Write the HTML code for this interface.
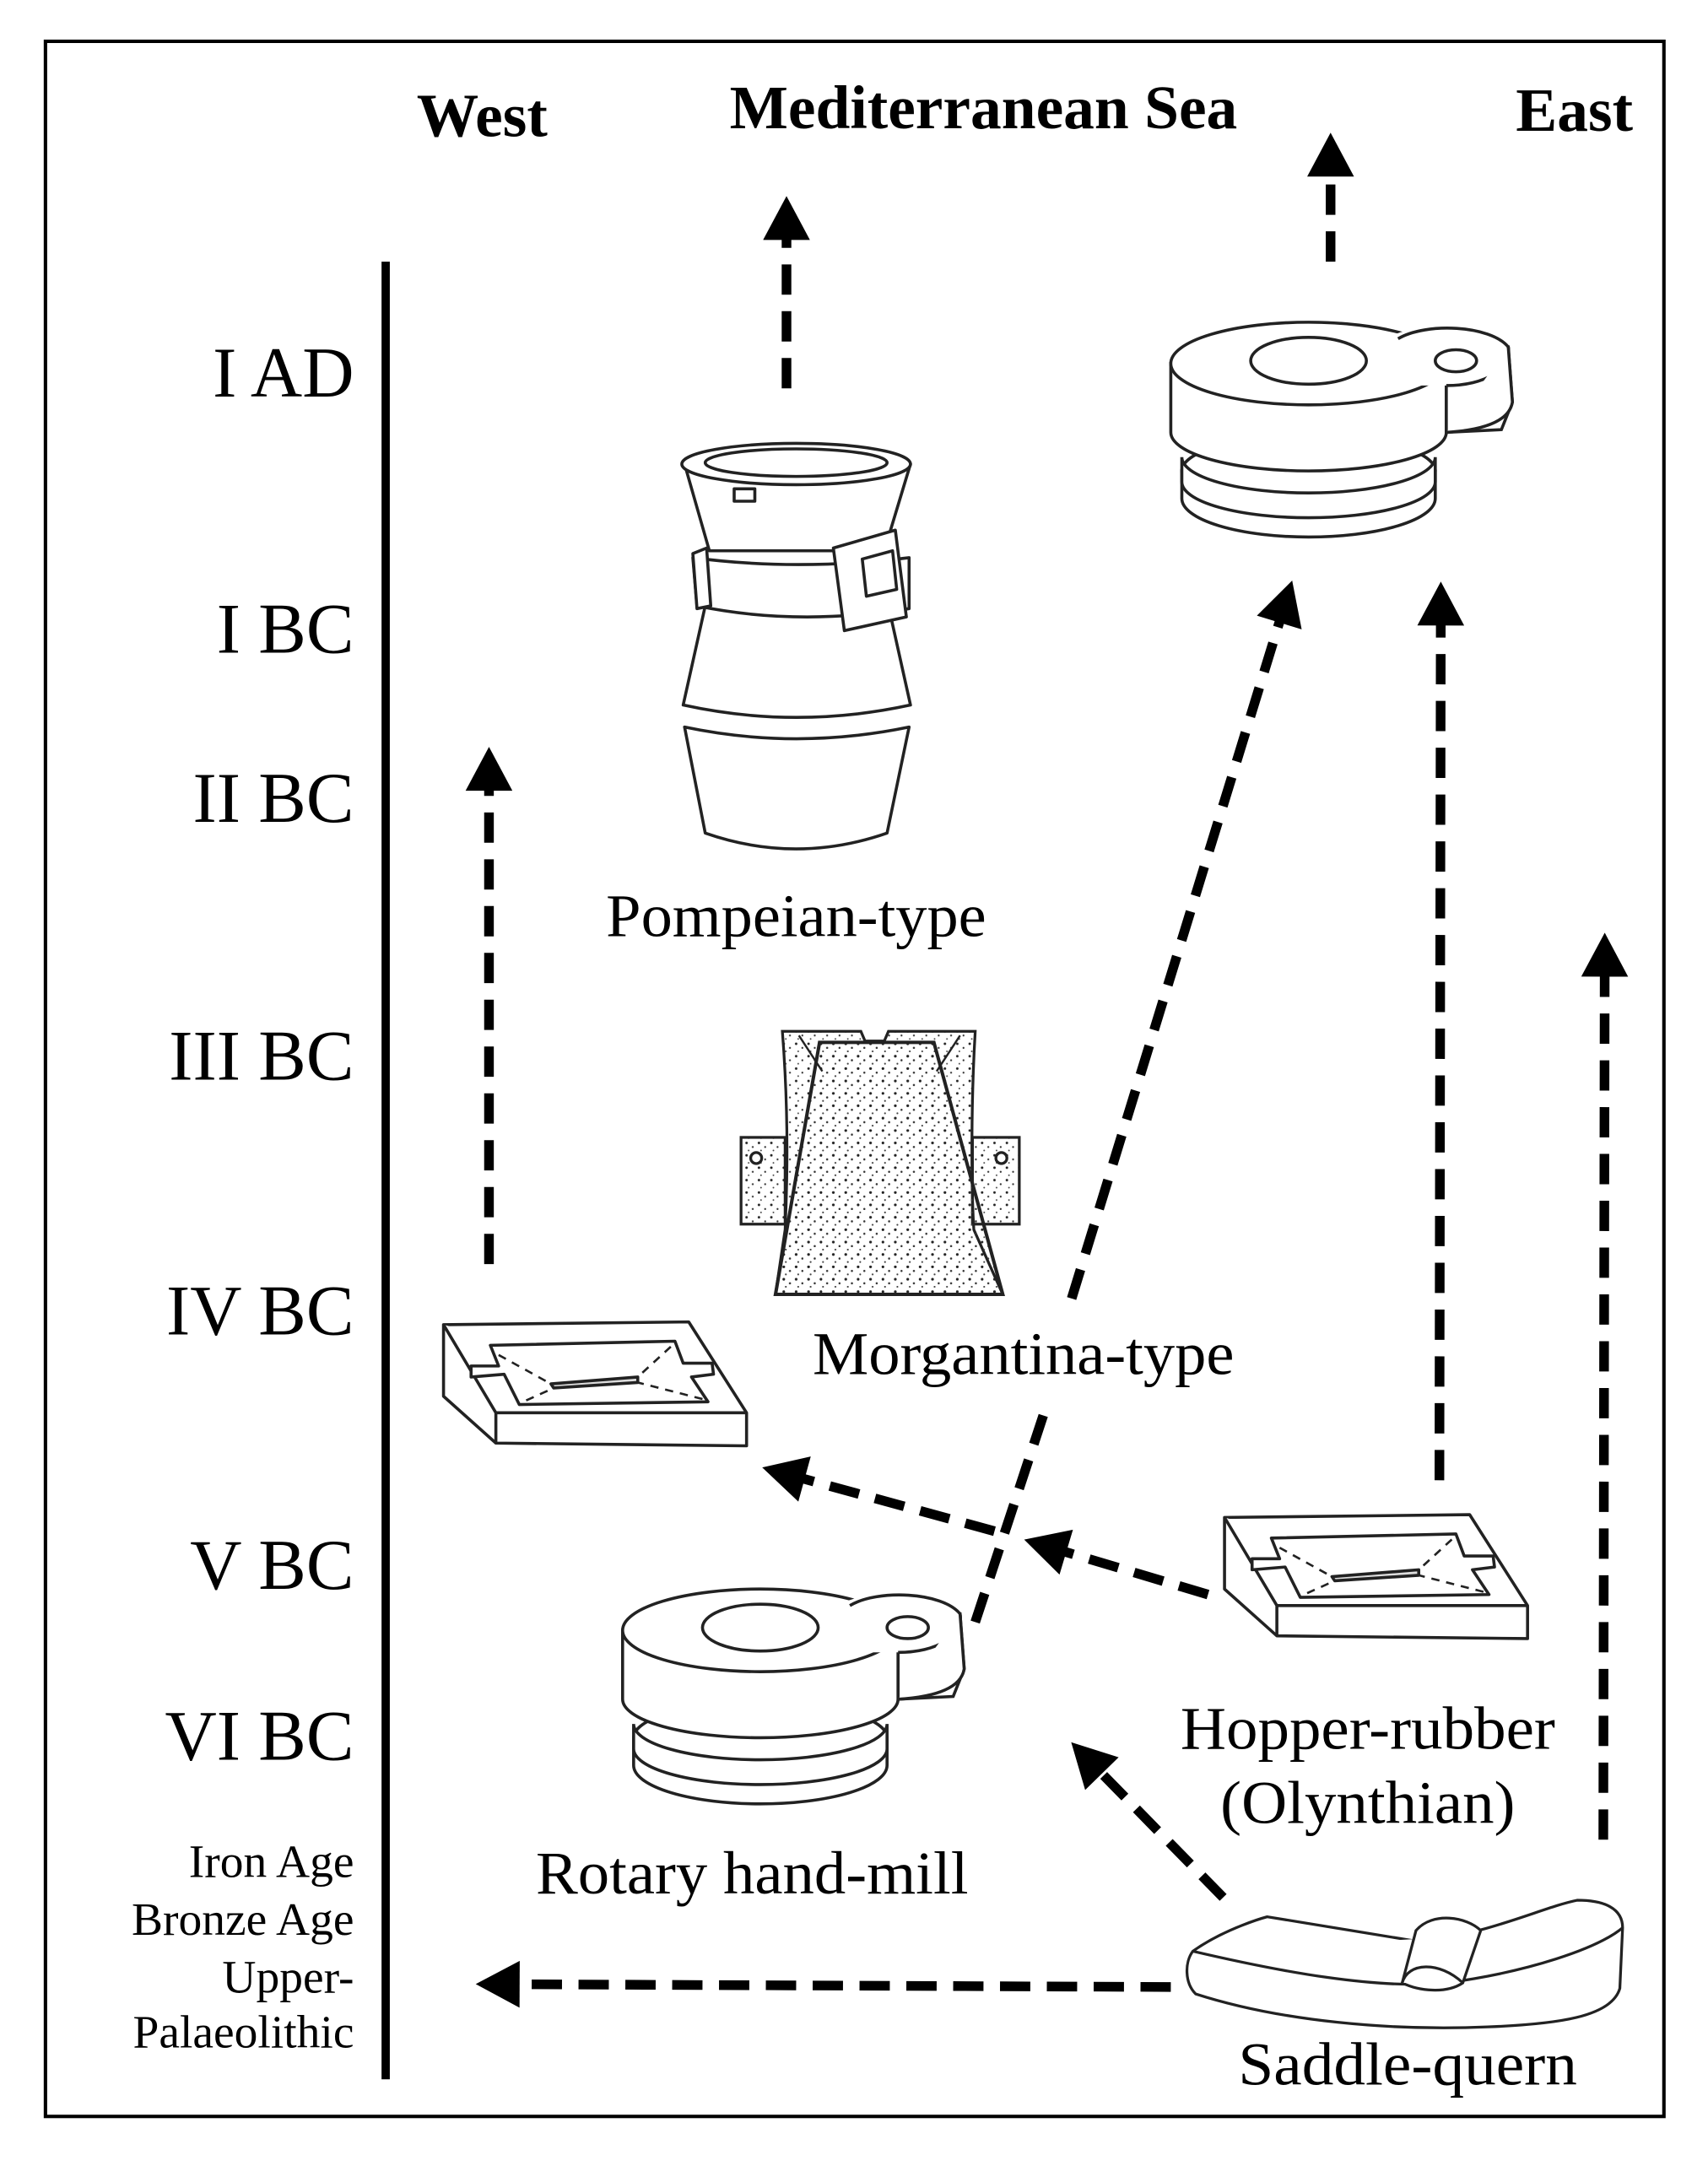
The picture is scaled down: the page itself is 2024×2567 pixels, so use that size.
<!DOCTYPE html>
<html><head><meta charset="utf-8"><style>html,body{margin:0;padding:0;background:#fff}svg{display:block}</style></head>
<body>
<svg width="2024" height="2567" viewBox="0 0 1240 1573" preserveAspectRatio="none" xmlns="http://www.w3.org/2000/svg" font-family="'Liberation Serif', serif">
<defs>
<marker id="ah" markerUnits="userSpaceOnUse" markerWidth="34" markerHeight="34" refX="4" refY="16" orient="auto" viewBox="0 0 30 32">
<path d="M0,0 L30,16 L0,32 Z" fill="#000"/>
</marker>
<pattern id="dots" width="9" height="9" patternUnits="userSpaceOnUse">
<circle cx="2" cy="2" r="0.9" fill="#222"/><circle cx="6.5" cy="5" r="0.7" fill="#333"/><circle cx="3.5" cy="7.5" r="0.6" fill="#444"/>
</pattern>
<g id="hopper" fill="#fff" stroke="#222" stroke-width="2.2" stroke-linejoin="round">
<path d="M0,0 L178,-2 L220,64 L220,88 L38,86 L0,52 Z"/>
<path d="M0,0 L38,64 L220,64 M38,64 L38,86"/>
<path d="M34,15 L168,12 L174,28 L195,28 L196,36 L180,38 L192,56 L55,58 L44,36 L20,38 L20,30 L40,30 Z"/>
<path d="M78,43 L141,38 L141,42 L80,46 Z" fill="#ddd"/>
<path d="M40,22 L78,43 M60,55 L80,46 M165,16 L141,38 M188,54 L141,42" stroke-dasharray="6,5" stroke-width="1.6"/>
</g>
<g id="mill" fill="#fff" stroke="#222" stroke-width="2.2">
<path d="M8,110 L8,130 A92,28 0 0 0 192,130 L192,110 Z"/>
<ellipse cx="100" cy="110" rx="92" ry="26"/>
<path d="M8,100 A92,26 0 0 0 192,100 L192,118 A92,26 0 0 1 8,118 Z"/>
<path d="M0,32 L0,82 A100,28 0 0 0 200,82 L200,32 Z"/>
<path d="M150,25 L245,20 L248,60 L240,80 L200,82 L200,32 Z"/>
<ellipse cx="100" cy="32" rx="100" ry="30"/>
<path d="M160,12 C185,0 235,5 245,20 C248,35 230,45 205,48 L160,48 Z" stroke="none"/>
<path d="M165,14 C185,2 232,4 245,20 C248,36 228,48 200,48"/>
<path d="M245,20 L248,60 C246,72 232,80 200,82"/>
<ellipse cx="100" cy="30" rx="42" ry="17"/>
<ellipse cx="207" cy="30" rx="15" ry="8"/>
</g>
</defs>
<rect x="33" y="30" width="1175" height="1507" fill="none" stroke="#000" stroke-width="2.5"/>
<g font-weight="bold" font-size="45" text-anchor="middle">
<text x="350" y="99">West</text>
<text x="714" y="93">Mediterranean Sea</text>
<text x="1143" y="95">East</text>
</g>
<line x1="280" y1="190" x2="280" y2="1510" stroke="#000" stroke-width="6"/>
<g font-size="52" text-anchor="end">
<text x="257" y="288">I AD</text>
<text x="257" y="474">I BC</text>
<text x="257" y="597">II BC</text>
<text x="257" y="784">III BC</text>
<text x="257" y="969">IV BC</text>
<text x="257" y="1154">V BC</text>
<text x="257" y="1278">VI BC</text>
</g>
<g font-size="34" text-anchor="end">
<text x="257" y="1363">Iron Age</text>
<text x="257" y="1405">Bronze Age</text>
<text x="257" y="1447">Upper-</text>
<text x="257" y="1487">Palaeolithic</text>
</g>
<!-- Pompeian -->
<g fill="#fff" stroke="#222" stroke-width="2.2" stroke-linejoin="round">
<path d="M497,528 Q578,545 660,528 L644,605 Q578,628 512,605 Z"/>
<path d="M512,440 Q578,452 645,440 L661,512 Q578,530 496,512 Z"/>
<path d="M497,337 L515,400 L642,400 L661,337 Z"/>
<ellipse cx="578" cy="337" rx="83" ry="15"/>
<ellipse cx="578" cy="336" rx="66" ry="10"/>
<rect x="533" y="355" width="15" height="9"/>
<path d="M503,405 Q578,415 660,405 L660,442 Q578,455 506,440 Z"/>
<path d="M503,402 L513,398 L516,440 L506,442 Z"/>
<path d="M605,398 L650,385 L658,448 L613,458 Z"/>
<path d="M626,406 L648,400 L651,428 L629,433 Z"/>
</g>
<g font-size="44" text-anchor="middle" lengthAdjust="spacingAndGlyphs">
<text x="578" y="680" textLength="276" lengthAdjust="spacingAndGlyphs">Pompeian-type</text>
</g>
<!-- Morgantina -->
<g stroke="#222" stroke-width="2">
<rect x="538" y="826" width="32" height="63" fill="url(#dots)"/>
<rect x="706" y="826" width="34" height="63" fill="url(#dots)"/>
<circle cx="549" cy="841" r="4" fill="#fff"/>
<circle cx="727" cy="841" r="4" fill="#fff"/>
<path d="M568,749 L625,749 L628,756 L642,756 L645,749 L708,749 C705,800 705,860 707,893 L728,940 L563,940 L570,893 C572,850 572,800 568,749 Z" fill="url(#dots)"/>
<path d="M595,757 L678,757 L728,940 L563,940 Z" fill="url(#dots)" stroke-width="2.5"/>
<path d="M580,752 L597,778 M697,752 L680,778" stroke-width="1.5"/>
</g>
<use href="#mill" transform="translate(850,232)"/>
<use href="#mill" transform="translate(452,1152)"/>
<use href="#hopper" transform="translate(322,962)"/>
<use href="#hopper" transform="translate(889,1102)"/>
<!-- Saddle quern -->
<g fill="#fff" stroke="#222" stroke-width="2">
<path d="M866,1417 C890,1400 920,1392 920,1392 L1030,1410 C1080,1405 1120,1385 1145,1380 C1165,1380 1178,1386 1178,1400 L1176,1444 C1170,1465 1130,1470 1080,1472 C1010,1475 930,1468 868,1448 C860,1440 860,1425 866,1417 Z"/>
<path d="M866,1417 C930,1432 1000,1445 1050,1440 C1110,1432 1160,1415 1178,1400"/>
<path d="M1028,1402 C1040,1388 1065,1392 1075,1402 L1062,1440 C1050,1448 1030,1446 1018,1440 Z"/>
<path d="M1018,1440 C1022,1425 1045,1424 1062,1440"/>
</g>
<rect x="590" y="962" width="306" height="44" fill="#fff"/>
<g font-size="44" text-anchor="middle">
<text x="743" y="998" textLength="306" lengthAdjust="spacingAndGlyphs">Morgantina-type</text>
<text x="993" y="1270" textLength="272" lengthAdjust="spacingAndGlyphs">Hopper-rubber</text>
<text x="993" y="1324" textLength="214" lengthAdjust="spacingAndGlyphs">(Olynthian)</text>
<text x="546" y="1375" textLength="314" lengthAdjust="spacingAndGlyphs">Rotary hand-mill</text>
<text x="1022" y="1514" textLength="246" lengthAdjust="spacingAndGlyphs">Saddle-quern</text>
</g>
<!-- arrows -->
<g stroke="#000" stroke-width="7" fill="none" stroke-dasharray="22,12" marker-end="url(#ah)">
<line x1="571" y1="282" x2="571" y2="170"/>
<line x1="966" y1="190" x2="966" y2="124"/>
<line x1="355" y1="918" x2="355" y2="570"/>
<line x1="1045" y1="1075" x2="1046" y2="450"/>
<line x1="1164" y1="1336" x2="1165" y2="705"/>
<line x1="877" y1="1158" x2="770" y2="1126"/>
<line x1="722" y1="1112" x2="580" y2="1073"/>
<line x1="888" y1="1378" x2="797" y2="1285"/>
<line x1="850" y1="1443" x2="373" y2="1441"/>
</g>
<g stroke="#000" stroke-width="7" fill="none" stroke-dasharray="22,12">
<line x1="708" y1="1178" x2="760" y2="1020"/>
</g>
<line x1="778" y1="943" x2="930" y2="448" stroke="#000" stroke-width="7" stroke-dasharray="22,12" marker-end="url(#ah)"/>
</svg>
</body></html>
